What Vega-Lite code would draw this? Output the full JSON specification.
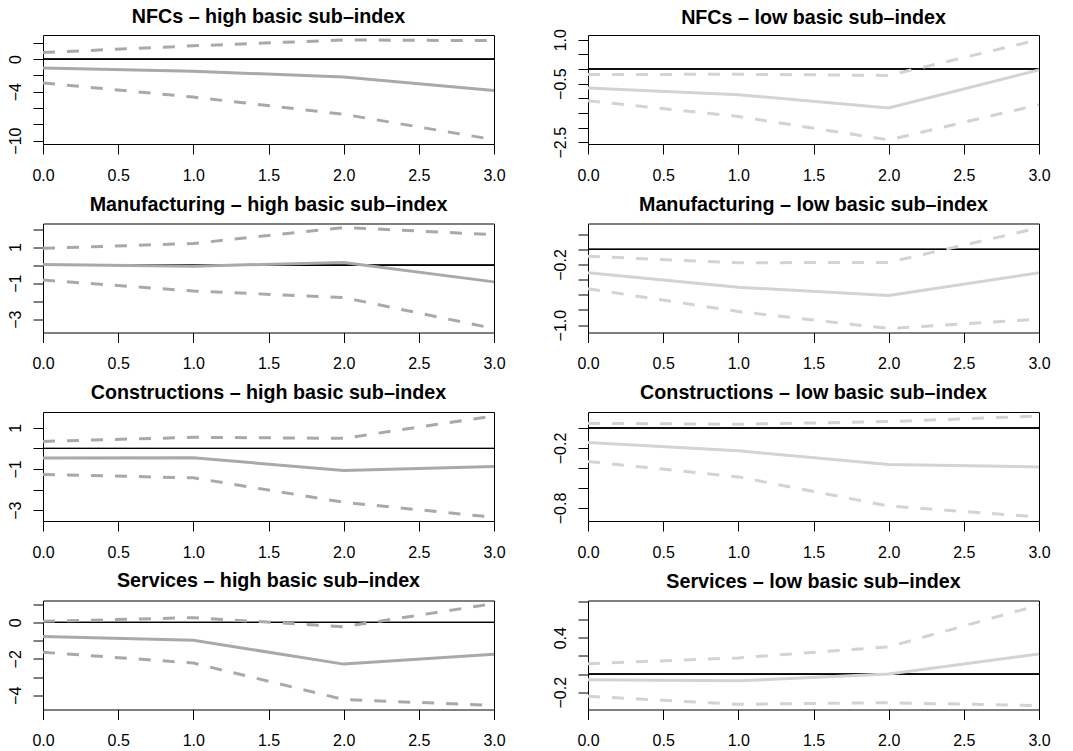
{
  "$schema": "https://vega.github.io/schema/vega-lite/v6.json",
  "padding": {"left": 6, "top": 6, "right": 0, "bottom": 0},
  "background": "white",
  "data": {"values": [
    {"panel": "p1", "h": 0, "est": -1.09, "lo": -2.92, "hi": 0.81},
    {"panel": "p1", "h": 1, "est": -1.5, "lo": -4.66, "hi": 1.63},
    {"panel": "p1", "h": 2, "est": -2.19, "lo": -6.77, "hi": 2.35},
    {"panel": "p1", "h": 3, "est": -3.85, "lo": -9.89, "hi": 2.27},
    {"panel": "p2", "h": 0, "est": -0.65, "lo": -1.08, "hi": -0.19},
    {"panel": "p2", "h": 1, "est": -0.88, "lo": -1.62, "hi": -0.18},
    {"panel": "p2", "h": 2, "est": -1.33, "lo": -2.42, "hi": -0.22},
    {"panel": "p2", "h": 3, "est": -0.03, "lo": -1.22, "hi": 1.0},
    {"panel": "p3", "h": 0, "est": 0.04, "lo": -0.83, "hi": 0.93},
    {"panel": "p3", "h": 1, "est": -0.06, "lo": -1.44, "hi": 1.2},
    {"panel": "p3", "h": 2, "est": 0.15, "lo": -1.8, "hi": 2.09},
    {"panel": "p3", "h": 3, "est": -0.93, "lo": -3.52, "hi": 1.69},
    {"panel": "p4", "h": 0, "est": -0.31, "lo": -0.52, "hi": -0.093},
    {"panel": "p4", "h": 1, "est": -0.5, "lo": -0.82, "hi": -0.177},
    {"panel": "p4", "h": 2, "est": -0.61, "lo": -1.044, "hi": -0.173},
    {"panel": "p4", "h": 3, "est": -0.31, "lo": -0.92, "hi": 0.283},
    {"panel": "p5", "h": 0, "est": -0.47, "lo": -1.27, "hi": 0.34},
    {"panel": "p5", "h": 1, "est": -0.46, "lo": -1.43, "hi": 0.54},
    {"panel": "p5", "h": 2, "est": -1.07, "lo": -2.62, "hi": 0.49},
    {"panel": "p5", "h": 3, "est": -0.88, "lo": -3.35, "hi": 1.58},
    {"panel": "p6", "h": 0, "est": -0.144, "lo": -0.335, "hi": 0.047},
    {"panel": "p6", "h": 1, "est": -0.228, "lo": -0.489, "hi": 0.037},
    {"panel": "p6", "h": 2, "est": -0.365, "lo": -0.78, "hi": 0.064},
    {"panel": "p6", "h": 3, "est": -0.389, "lo": -0.89, "hi": 0.12},
    {"panel": "p7", "h": 0, "est": -0.77, "lo": -1.64, "hi": 0.055},
    {"panel": "p7", "h": 1, "est": -0.98, "lo": -2.23, "hi": 0.26},
    {"panel": "p7", "h": 2, "est": -2.29, "lo": -4.23, "hi": -0.24},
    {"panel": "p7", "h": 3, "est": -1.75, "lo": -4.56, "hi": 1.03},
    {"panel": "p8", "h": 0, "est": -0.063, "lo": -0.244, "hi": 0.115},
    {"panel": "p8", "h": 1, "est": -0.074, "lo": -0.333, "hi": 0.178},
    {"panel": "p8", "h": 2, "est": 0.0, "lo": -0.315, "hi": 0.3},
    {"panel": "p8", "h": 3, "est": 0.222, "lo": -0.348, "hi": 0.76}
  ]},
  "columns": 2,
  "spacing": {"row": 79.5, "column": 94},
  "bounds": "flush",
  "concat": [
    {
      "title": {"text": "NFCs – high basic sub–index", "offset": 7},
      "width": 451, "height": 109,
      "transform": [{"filter": "datum.panel == 'p1'"}],
      "layer": [
        {"mark": {"type": "rule", "color": "black", "strokeWidth": 1}, "encoding": {"y": {"datum": 0, "type": "quantitative", "scale": {"domain": [-10.42, 2.96], "nice": false, "zero": false}, "axis": {"title": null, "values": [-10, -8, -6, -4, -2, 0, 2], "format": "d", "labelExpr": "indexof([0, -4, -10], datum.value) >= 0 ? datum.label : ''"}}}},
        {"mark": {"type": "line", "color": "#a9a9a9", "strokeWidth": 3}, "encoding": {"x": {"field": "h", "type": "quantitative", "scale": {"domain": [0, 3], "nice": false}, "axis": {"title": null, "values": [0, 0.5, 1, 1.5, 2, 2.5, 3], "format": ".1f"}}, "y": {"field": "est", "type": "quantitative"}}},
        {"mark": {"type": "line", "color": "#a9a9a9", "strokeWidth": 3, "strokeDash": [12, 12], "strokeCap": "butt"}, "encoding": {"x": {"field": "h", "type": "quantitative"}, "y": {"field": "lo", "type": "quantitative"}}},
        {"mark": {"type": "line", "color": "#a9a9a9", "strokeWidth": 3, "strokeDash": [12, 12], "strokeCap": "butt"}, "encoding": {"x": {"field": "h", "type": "quantitative"}, "y": {"field": "hi", "type": "quantitative"}}}
      ]
    },
    {
      "title": {"text": "NFCs – low basic sub–index", "offset": 0.6},
      "width": 451, "height": 109,
      "transform": [{"filter": "datum.panel == 'p2'"}],
      "layer": [
        {"mark": {"type": "rule", "color": "black", "strokeWidth": 1}, "encoding": {"y": {"datum": 0, "type": "quantitative", "scale": {"domain": [-2.56, 1.16], "nice": false, "zero": false}, "axis": {"title": null, "values": [-2.5, -2, -1.5, -1, -0.5, 0, 0.5, 1], "format": ".1f", "labelExpr": "indexof([1, -0.5, -2.5], datum.value) >= 0 ? datum.label : ''"}}}},
        {"mark": {"type": "line", "color": "#d3d3d3", "strokeWidth": 3}, "encoding": {"x": {"field": "h", "type": "quantitative", "scale": {"domain": [0, 3], "nice": false}, "axis": {"title": null, "values": [0, 0.5, 1, 1.5, 2, 2.5, 3], "format": ".1f"}}, "y": {"field": "est", "type": "quantitative"}}},
        {"mark": {"type": "line", "color": "#d3d3d3", "strokeWidth": 3, "strokeDash": [12, 12], "strokeCap": "butt"}, "encoding": {"x": {"field": "h", "type": "quantitative"}, "y": {"field": "lo", "type": "quantitative"}}},
        {"mark": {"type": "line", "color": "#d3d3d3", "strokeWidth": 3, "strokeDash": [12, 12], "strokeCap": "butt"}, "encoding": {"x": {"field": "h", "type": "quantitative"}, "y": {"field": "hi", "type": "quantitative"}}}
      ]
    },
    {
      "title": {"text": "Manufacturing – high basic sub–index", "offset": 7},
      "width": 451, "height": 109,
      "transform": [{"filter": "datum.panel == 'p3'"}],
      "layer": [
        {"mark": {"type": "rule", "color": "black", "strokeWidth": 1}, "encoding": {"y": {"datum": 0, "type": "quantitative", "scale": {"domain": [-3.74, 2.31], "nice": false, "zero": false}, "axis": {"title": null, "values": [-3, -2, -1, 0, 1, 2], "format": "d", "labelExpr": "indexof([1, -1, -3], datum.value) >= 0 ? datum.label : ''"}}}},
        {"mark": {"type": "line", "color": "#a9a9a9", "strokeWidth": 3}, "encoding": {"x": {"field": "h", "type": "quantitative", "scale": {"domain": [0, 3], "nice": false}, "axis": {"title": null, "values": [0, 0.5, 1, 1.5, 2, 2.5, 3], "format": ".1f"}}, "y": {"field": "est", "type": "quantitative"}}},
        {"mark": {"type": "line", "color": "#a9a9a9", "strokeWidth": 3, "strokeDash": [12, 12], "strokeCap": "butt"}, "encoding": {"x": {"field": "h", "type": "quantitative"}, "y": {"field": "lo", "type": "quantitative"}}},
        {"mark": {"type": "line", "color": "#a9a9a9", "strokeWidth": 3, "strokeDash": [12, 12], "strokeCap": "butt"}, "encoding": {"x": {"field": "h", "type": "quantitative"}, "y": {"field": "hi", "type": "quantitative"}}}
      ]
    },
    {
      "title": {"text": "Manufacturing – low basic sub–index", "offset": 7},
      "width": 451, "height": 109,
      "transform": [{"filter": "datum.panel == 'p4'"}],
      "layer": [
        {"mark": {"type": "rule", "color": "black", "strokeWidth": 1}, "encoding": {"y": {"datum": 0, "type": "quantitative", "scale": {"domain": [-1.097, 0.34], "nice": false, "zero": false}, "axis": {"title": null, "values": [-1, -0.8, -0.6, -0.4, -0.2, 0, 0.2], "format": ".1f", "labelExpr": "indexof([-0.2, -1], datum.value) >= 0 ? datum.label : ''"}}}},
        {"mark": {"type": "line", "color": "#d3d3d3", "strokeWidth": 3}, "encoding": {"x": {"field": "h", "type": "quantitative", "scale": {"domain": [0, 3], "nice": false}, "axis": {"title": null, "values": [0, 0.5, 1, 1.5, 2, 2.5, 3], "format": ".1f"}}, "y": {"field": "est", "type": "quantitative"}}},
        {"mark": {"type": "line", "color": "#d3d3d3", "strokeWidth": 3, "strokeDash": [12, 12], "strokeCap": "butt"}, "encoding": {"x": {"field": "h", "type": "quantitative"}, "y": {"field": "lo", "type": "quantitative"}}},
        {"mark": {"type": "line", "color": "#d3d3d3", "strokeWidth": 3, "strokeDash": [12, 12], "strokeCap": "butt"}, "encoding": {"x": {"field": "h", "type": "quantitative"}, "y": {"field": "hi", "type": "quantitative"}}}
      ]
    },
    {
      "title": {"text": "Constructions – high basic sub–index", "offset": 7},
      "width": 451, "height": 109,
      "transform": [{"filter": "datum.panel == 'p5'"}],
      "layer": [
        {"mark": {"type": "rule", "color": "black", "strokeWidth": 1}, "encoding": {"y": {"datum": 0, "type": "quantitative", "scale": {"domain": [-3.53, 1.77], "nice": false, "zero": false}, "axis": {"title": null, "values": [-3, -2, -1, 0, 1], "format": "d", "labelExpr": "indexof([1, -1, -3], datum.value) >= 0 ? datum.label : ''"}}}},
        {"mark": {"type": "line", "color": "#a9a9a9", "strokeWidth": 3}, "encoding": {"x": {"field": "h", "type": "quantitative", "scale": {"domain": [0, 3], "nice": false}, "axis": {"title": null, "values": [0, 0.5, 1, 1.5, 2, 2.5, 3], "format": ".1f"}}, "y": {"field": "est", "type": "quantitative"}}},
        {"mark": {"type": "line", "color": "#a9a9a9", "strokeWidth": 3, "strokeDash": [12, 12], "strokeCap": "butt"}, "encoding": {"x": {"field": "h", "type": "quantitative"}, "y": {"field": "lo", "type": "quantitative"}}},
        {"mark": {"type": "line", "color": "#a9a9a9", "strokeWidth": 3, "strokeDash": [12, 12], "strokeCap": "butt"}, "encoding": {"x": {"field": "h", "type": "quantitative"}, "y": {"field": "hi", "type": "quantitative"}}}
      ]
    },
    {
      "title": {"text": "Constructions – low basic sub–index", "offset": 7},
      "width": 451, "height": 109,
      "transform": [{"filter": "datum.panel == 'p6'"}],
      "layer": [
        {"mark": {"type": "rule", "color": "black", "strokeWidth": 1}, "encoding": {"y": {"datum": 0, "type": "quantitative", "scale": {"domain": [-0.93, 0.16], "nice": false, "zero": false}, "axis": {"title": null, "values": [-0.8, -0.6, -0.4, -0.2, 0], "format": ".1f", "labelExpr": "indexof([-0.2, -0.8], datum.value) >= 0 ? datum.label : ''"}}}},
        {"mark": {"type": "line", "color": "#d3d3d3", "strokeWidth": 3}, "encoding": {"x": {"field": "h", "type": "quantitative", "scale": {"domain": [0, 3], "nice": false}, "axis": {"title": null, "values": [0, 0.5, 1, 1.5, 2, 2.5, 3], "format": ".1f"}}, "y": {"field": "est", "type": "quantitative"}}},
        {"mark": {"type": "line", "color": "#d3d3d3", "strokeWidth": 3, "strokeDash": [12, 12], "strokeCap": "butt"}, "encoding": {"x": {"field": "h", "type": "quantitative"}, "y": {"field": "lo", "type": "quantitative"}}},
        {"mark": {"type": "line", "color": "#d3d3d3", "strokeWidth": 3, "strokeDash": [12, 12], "strokeCap": "butt"}, "encoding": {"x": {"field": "h", "type": "quantitative"}, "y": {"field": "hi", "type": "quantitative"}}}
      ]
    },
    {
      "title": {"text": "Services – high basic sub–index", "offset": 7},
      "width": 451, "height": 109,
      "transform": [{"filter": "datum.panel == 'p7'"}],
      "layer": [
        {"mark": {"type": "rule", "color": "black", "strokeWidth": 1}, "encoding": {"y": {"datum": 0, "type": "quantitative", "scale": {"domain": [-4.78, 1.2], "nice": false, "zero": false}, "axis": {"title": null, "values": [-4, -3, -2, -1, 0, 1], "format": "d", "labelExpr": "indexof([0, -2, -4], datum.value) >= 0 ? datum.label : ''"}}}},
        {"mark": {"type": "line", "color": "#a9a9a9", "strokeWidth": 3}, "encoding": {"x": {"field": "h", "type": "quantitative", "scale": {"domain": [0, 3], "nice": false}, "axis": {"title": null, "values": [0, 0.5, 1, 1.5, 2, 2.5, 3], "format": ".1f"}}, "y": {"field": "est", "type": "quantitative"}}},
        {"mark": {"type": "line", "color": "#a9a9a9", "strokeWidth": 3, "strokeDash": [12, 12], "strokeCap": "butt"}, "encoding": {"x": {"field": "h", "type": "quantitative"}, "y": {"field": "lo", "type": "quantitative"}}},
        {"mark": {"type": "line", "color": "#a9a9a9", "strokeWidth": 3, "strokeDash": [12, 12], "strokeCap": "butt"}, "encoding": {"x": {"field": "h", "type": "quantitative"}, "y": {"field": "hi", "type": "quantitative"}}}
      ]
    },
    {
      "title": {"text": "Services – low basic sub–index", "offset": 7},
      "width": 451, "height": 109,
      "transform": [{"filter": "datum.panel == 'p8'"}],
      "layer": [
        {"mark": {"type": "rule", "color": "black", "strokeWidth": 1}, "encoding": {"y": {"datum": 0, "type": "quantitative", "scale": {"domain": [-0.39, 0.81], "nice": false, "zero": false}, "axis": {"title": null, "values": [-0.2, 0, 0.2, 0.4, 0.6, 0.8], "format": ".1f", "labelExpr": "indexof([0.4, -0.2], datum.value) >= 0 ? datum.label : ''"}}}},
        {"mark": {"type": "line", "color": "#d3d3d3", "strokeWidth": 3}, "encoding": {"x": {"field": "h", "type": "quantitative", "scale": {"domain": [0, 3], "nice": false}, "axis": {"title": null, "values": [0, 0.5, 1, 1.5, 2, 2.5, 3], "format": ".1f"}}, "y": {"field": "est", "type": "quantitative"}}},
        {"mark": {"type": "line", "color": "#d3d3d3", "strokeWidth": 3, "strokeDash": [12, 12], "strokeCap": "butt"}, "encoding": {"x": {"field": "h", "type": "quantitative"}, "y": {"field": "lo", "type": "quantitative"}}},
        {"mark": {"type": "line", "color": "#d3d3d3", "strokeWidth": 3, "strokeDash": [12, 12], "strokeCap": "butt"}, "encoding": {"x": {"field": "h", "type": "quantitative"}, "y": {"field": "hi", "type": "quantitative"}}}
      ]
    }
  ],
  "config": {
    "font": "Liberation Sans",
    "view": {"stroke": "black", "strokeWidth": 1},
    "axis": {"domain": false, "grid": false, "ticks": true, "tickColor": "black", "tickSize": 10, "tickWidth": 1, "tickCount": 50, "labelFont": "Liberation Sans", "labelFontSize": 16, "labelColor": "black", "labelOverlap": false, "labelFlush": false, "labelBound": false},
    "axisX": {"labelPadding": 13, "labelAngle": 0},
    "axisY": {"labelAngle": 270, "labelAlign": "center", "labelBaseline": "bottom", "labelPadding": 10},
    "title": {"font": "Liberation Sans", "fontSize": 19.7, "fontWeight": "bold", "color": "black", "anchor": "middle", "frame": "group", "baseline": "alphabetic"}
  }
}
